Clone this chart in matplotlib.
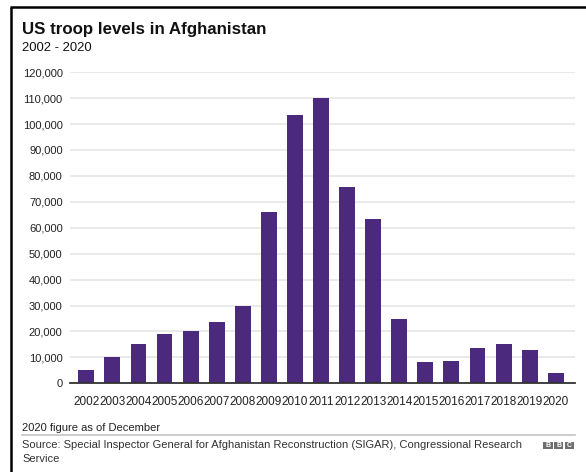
import matplotlib
matplotlib.use("Agg")
import matplotlib.pyplot as plt
from matplotlib.lines import Line2D
from matplotlib.patches import Rectangle

years = [str(y) for y in range(2002, 2021)]
troops = [5000, 10300, 15000, 19000, 20300, 23600, 30000, 66000, 103500,
          110000, 75700, 63500, 24800, 8300, 8700, 13800, 15300, 12900, 4000]
yticks = list(range(0, 120001, 10000))

W, H = 586, 472
plt.rcParams["font.family"] = ["Liberation Sans", "DejaVu Sans"]

fig = plt.figure(figsize=(W / 100, H / 100), dpi=100)


def fx(px):
    return px / W


def fy(py):
    return 1 - py / H


# plot area in pixels: x 70..575, y 72.2..383.3
ax = fig.add_axes([fx(70), fy(383.3), fx(575 - 70), (383.3 - 72.2) / H])
ax.bar(range(len(years)), troops, width=0.61, color="#4b2a7d", zorder=3)
ax.set_xlim(-0.625, 18.74)
ax.set_ylim(0, 120000)
ax.set_yticks(yticks)
ax.set_yticklabels([f"{v:,}" for v in yticks])
ax.set_xticks(range(len(years)))
ax.set_xticklabels(years)
ax.grid(axis="y", color="#e6e6e6", linewidth=1.2, zorder=0)
for s in ["top", "right", "left"]:
    ax.spines[s].set_visible(False)
ax.spines["bottom"].set_color("#333333")
ax.spines["bottom"].set_linewidth(1.3)
ax.spines["bottom"].set_zorder(4)
ax.tick_params(axis="y", length=0, pad=5.3, labelsize=8, labelcolor="#222222")
ax.tick_params(axis="x", length=0, pad=9, labelsize=8.45, labelcolor="#222222")

# titles
fig.text(fx(22), fy(34), "US troop levels in Afghanistan", fontsize=12.2,
         fontweight="bold", va="baseline", color="#111111")
fig.text(fx(22), fy(50.7), "2002 - 2020", fontsize=9.4, va="baseline",
         color="#111111")

# footer
fig.text(fx(22), fy(431), "2020 figure as of December", fontsize=8,
         va="baseline", color="#222222")
fig.add_artist(Line2D([fx(22), fx(575)], [fy(434.5), fy(434.5)],
                      color="#c4c4c4", linewidth=1.2))
fig.text(fx(22), fy(448), "Source: Special Inspector General for Afghanistan "
         "Reconstruction (SIGAR), Congressional Research", fontsize=8.05,
         va="baseline", color="#333333")
fig.text(fx(22), fy(461.5), "Service", fontsize=8.05, va="baseline",
         color="#333333")

# BBC logo
for i, letter in enumerate("BBC"):
    x0 = 543.3 + i * 10.8
    fig.add_artist(Rectangle((fx(x0), fy(449)), fx(9.4), 6.8 / H,
                             facecolor="#6e6e6e", edgecolor="none"))
    fig.text(fx(x0 + 4.7), fy(445.6), letter, fontsize=5, fontweight="bold",
             color="white", ha="center", va="center")

# frame lines (left and top)
fig.add_artist(Line2D([fx(11), fx(11)], [fy(7), 0], color="black",
                      linewidth=1.8, solid_capstyle="butt"))
fig.add_artist(Line2D([fx(10), 1], [fy(7), fy(7)], color="black",
                      linewidth=1.8, solid_capstyle="butt"))

fig.savefig("out.png", dpi=100)
